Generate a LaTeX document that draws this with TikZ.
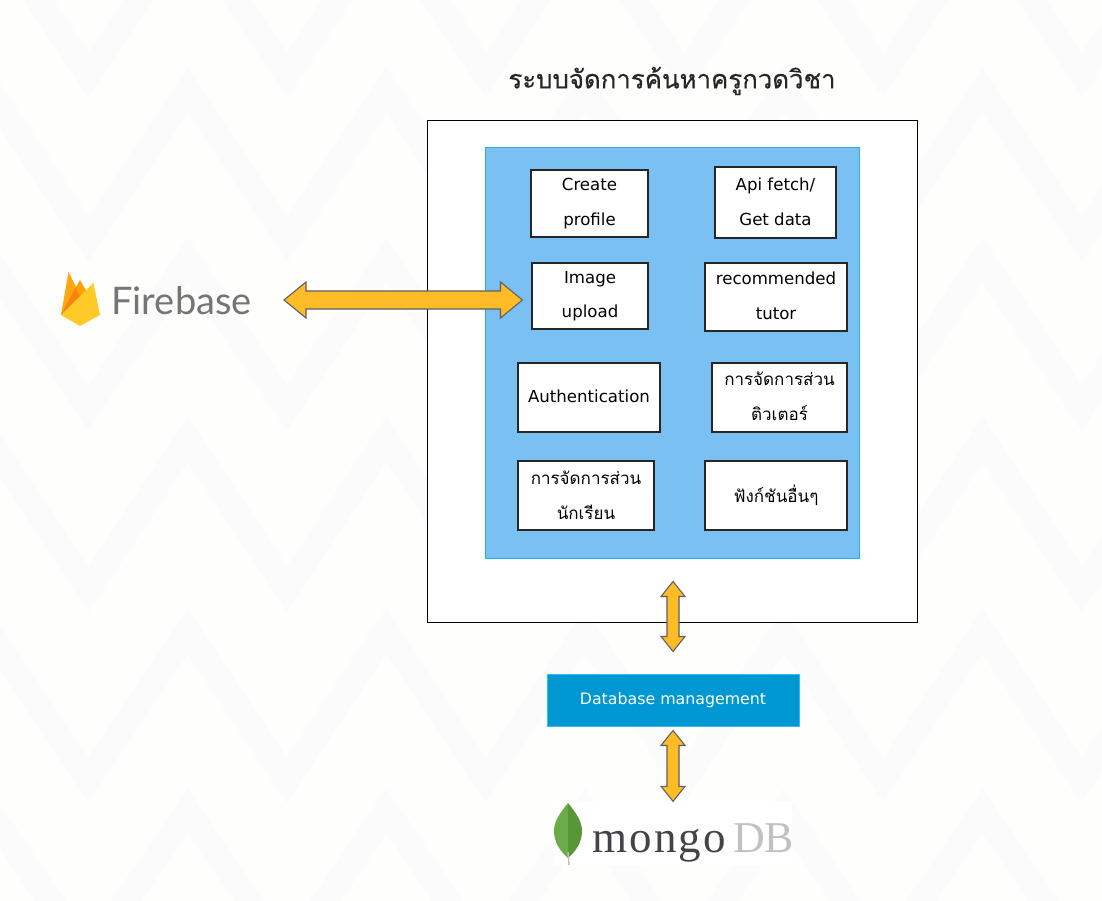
\documentclass[tikz,border=0pt]{standalone}
\usepackage{fontspec}
\setmainfont{DejaVu Sans}
\newfontfamily\thai[Script=Thai]{Loma}
\newfontfamily\thaititle[Script=Thai,FakeBold=0.35]{Loma}
\newfontfamily\fbfont{Lato}
\newfontfamily\mgfont[LetterSpace=5]{Liberation Serif}
\newfontfamily\dbfont{Liberation Serif}
\usetikzlibrary{calc}
\definecolor{pagebg}{HTML}{FEFEFD}
\definecolor{bandc}{HTML}{FCFBFB}
\definecolor{panelblue}{HTML}{7BC0F2}
\definecolor{panelline}{HTML}{27B0E6}
\definecolor{dbblue}{HTML}{0098D3}
\definecolor{dbline}{HTML}{36BDEF}
\definecolor{arrowfill}{HTML}{FFBC26}
\definecolor{arrowline}{HTML}{5F5F5F}
\newcommand{\up}[2]{\raisebox{#1pt}{#2}}
\tikzset{
  band/.style={draw=bandc,line width=25pt,line join=miter},
  framebox/.style={draw=black,fill=white,line width=1pt},
  panel/.style={draw=panelline,fill=panelblue,line width=1pt},
  funcbox/.style={draw=black!85,fill=white,line width=1.1pt,inner sep=0pt,align=center,
    text=black,font=\fontsize{16.6}{35}\selectfont},
  thaibox/.style={funcbox,font=\thai\fontsize{17}{35}\selectfont},
  dbbox/.style={draw=dbline,fill=dbblue,line width=1pt,inner sep=0pt,text=white,
    font=\fontsize{15.8}{20}\selectfont},
  titletext/.style={text=black!85,inner sep=0pt,font=\thaititle\fontsize{25.8}{32}\selectfont},
  blockarrow/.style={draw=arrowline,fill=arrowfill,line width=1.1pt,line join=miter},
  plate/.style={fill=white,draw=none,inner sep=0pt}
}
\newcommand{\blockH}[2]{\draw[blockarrow] (#1) -- ++(22,-18) -- ++(0,9) -- ($(#2)+(-22,-9)$) -- ++(0,-9) -- (#2) -- ++(-22,18) -- ++(0,-9) -- ($(#1)+(22,9)$) -- ++(0,9) -- cycle;}
\newcommand{\blockV}[2]{\draw[blockarrow] (#1) -- ++(12,15) -- ++(-6,0) -- ($(#2)+(6,-15)$) -- ++(6,0) -- (#2) -- ++(-12,-15) -- ++(6,0) -- ($(#1)+(-6,15)$) -- ++(-6,0) -- cycle;}
\begin{document}
\begin{tikzpicture}[x=1pt,y=-1pt]
\useasboundingbox (0,0) rectangle (1102,901);
\fill[pagebg] (0,0) rectangle (1102,901);
\begin{scope}
  \clip (0,0) rectangle (1102,901);
  \foreach \p/\v in {-96/53,68/217,238/386,417/567,609/758,789/935}{
    \draw[band] plot[samples at={0,...,13}] ({-11+99.35*\x},{\p+22+(\v-\p)*mod(\x,2)});
  }
\end{scope}

% title
\node[titletext] (title) at (672,81) {ระบบจัดการค้นหาครูกวดวิชา};

% frames
\node[framebox,minimum width=489.5,minimum height=501.5,inner sep=0pt] (outer) at (672.5,371.5) {};
\node[panel,minimum width=374,minimum height=410,inner sep=0pt] (blue) at (672.7,353) {};

% function boxes
\node[funcbox,minimum width=117,minimum height=67] (create) at (589.5,203.5) {\up{-1.5}{Create}\\\up{-1.5}{profile}};
\node[funcbox,minimum width=121,minimum height=71] (api) at (775.5,202.5) {\up{1}{Api fetch/}\\\up{1}{Get data}};
\node[funcbox,minimum width=116,minimum height=66] (image) at (590,296) {\up{-1}{Image}\\\up{-0.5}{upload}};
\node[funcbox,minimum width=142,minimum height=68] (rec) at (776,297) {\up{2}{recommended}\\\up{2}{tutor}};
\node[funcbox,minimum width=142,minimum height=69] (auth) at (589,397.5) {\up{2}{Authentication}};
\node[thaibox,minimum width=135,minimum height=69] (tutormgr) at (779.5,397.5) {\up{2.5}{การจัดการส่วน}\\\up{2.5}{ติวเตอร์}};
\node[thaibox,minimum width=136,minimum height=69] (studentmgr) at (586,495.5) {\up{1}{การจัดการส่วน}\\\up{1}{นักเรียน}};
\node[thaibox,minimum width=142,minimum height=69] (others) at (776,495.5) {\up{3}{ฟังก์ชันอื่นๆ}};

% database
\node[dbbox,minimum width=252,minimum height=52] (db) at (673,700) {Database management};

% firebase logo
\fill[color={rgb,255:red,255;green,167;blue,18}] (61,315) -- (68.5,272) -- (80,295) -- (72,310) -- cycle;
\fill[color={rgb,255:red,255;green,160;blue,0}] (61,315) -- (80,280) -- (88,294) -- (80,310) -- cycle;
\fill[color={rgb,255:red,245;green,132;blue,16}] (61,315) -- (75.5,288) -- (80,296) -- (74,306) -- cycle;
\fill[color={rgb,255:red,255;green,202;blue,40}] (61,315) -- (93.5,283) -- (100,315) -- (80,326) -- cycle;
\node[inner sep=0pt,text={rgb,255:red,117;green,117;blue,117},font=\fbfont\fontsize{38}{44}\selectfont] (firebase) at (181.5,301) {Firebase};

% mongodb logo
\node[plate,minimum width=238,minimum height=63] (mongoplate) at (672.5,833) {};
\fill[color={rgb,255:red,108;green,172;blue,72}] (568,803) .. controls (560,813) and (554,821) .. (554,831) .. controls (554,843) and (561,852) .. (568,858) -- cycle;
\fill[color={rgb,255:red,88;green,150;blue,54}] (568,803) .. controls (576,813) and (582,821) .. (582,831) .. controls (582,843) and (575,852) .. (568,858) -- cycle;
\draw[color={rgb,255:red,190;green,190;blue,190},line width=1.5pt] (568,852) -- (569,865);
\node[inner sep=0pt,anchor=base west,text={rgb,255:red,68;green,68;blue,72},font=\mgfont\fontsize{45}{50}\selectfont] (mongo) at (592,852) {mongo};
\node[inner sep=0pt,anchor=base west,text={rgb,255:red,196;green,192;blue,192},font=\dbfont\fontsize{44}{50}\selectfont] (dbword) at (733,852) {DB};

% connectors
\coordinate (fbtip) at (284,300);
\coordinate (imgtip) at ($(image.west)+(-9,4)$);
\blockH{fbtip}{imgtip}
\coordinate (uptop) at ($(blue.south)+(0.3,23)$);
\coordinate (upbot) at ($(db.north)+(0,-22)$);
\blockV{uptop}{upbot}
\coordinate (lowtop) at ($(db.south)+(0,4)$);
\coordinate (lowbot) at ($(mongoplate.north)+(0.5,0)$);
\blockV{lowtop}{lowbot}
\end{tikzpicture}
\end{document}
